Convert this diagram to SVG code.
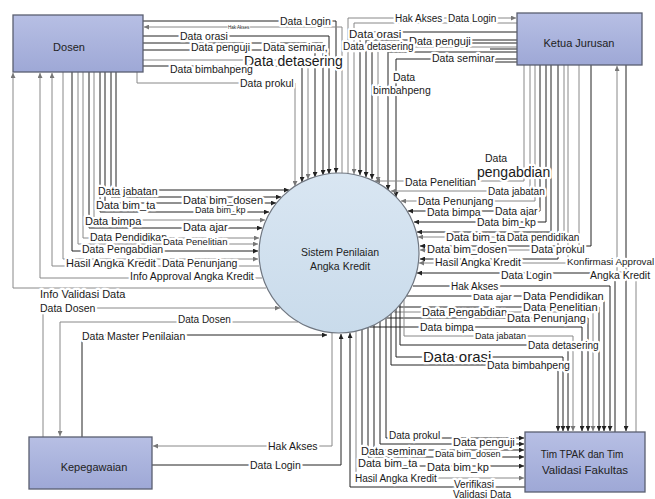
<svg xmlns="http://www.w3.org/2000/svg" width="655" height="499" viewBox="0 0 655 499">
<defs>
<linearGradient id="box" x1="0" y1="0" x2="0" y2="1"><stop offset="0" stop-color="#b7bfe4"/><stop offset="1" stop-color="#9ea8d6"/></linearGradient>
<linearGradient id="proc" x1="0" y1="0" x2="0" y2="1"><stop offset="0" stop-color="#d9e6f2"/><stop offset="1" stop-color="#c9dbeb"/></linearGradient>
<marker id="a" viewBox="0 0 10 10" refX="10" refY="5" markerWidth="6" markerHeight="5" markerUnits="userSpaceOnUse" orient="auto"><path d="M0,0 L10,5 L0,10 z" fill="#222"/></marker>
<marker id="ag" viewBox="0 0 10 10" refX="10" refY="5" markerWidth="6" markerHeight="5" markerUnits="userSpaceOnUse" orient="auto"><path d="M0,0 L10,5 L0,10 z" fill="#777"/></marker>
</defs>
<style>
.c path{fill:none;stroke:#222;stroke-width:1}
.c path.g{stroke:#888}
.c path.e{marker-end:url(#a)}
.c path.g.e{marker-end:url(#ag)}
.n rect{fill:url(#box);stroke:#5a5f70;stroke-width:1.3}
.n text{font-family:"Liberation Sans",Arial,sans-serif;font-size:11px;fill:#222;text-anchor:middle}
.l text{font-family:"Liberation Sans",Arial,sans-serif;font-size:10.5px;fill:#1a1a1a;paint-order:stroke;stroke:#fff;stroke-width:4.5px;stroke-linejoin:round}
</style>
<rect width="655" height="499" fill="#fff"/>
<g class="c" id="connectors">
<path class="e" d="M143,21 H336 V173"/>
<path class="g e" d="M342,173 V27 H144"/>
<path class="e" d="M143,36 H329 V174"/>
<path class="e" d="M143,43 H323 V175"/>
<path class="e" d="M143,50 H315 V177"/>
<path class="g e" d="M143,60 H308 V179"/>
<path class="e" d="M143,66 H302 V182"/>
<path class="g e" d="M137,72 V83 H295 V186"/>
<path class="g e" d="M348,173 V18 H516"/>
<path class="g e" d="M517,23 H354 V174"/>
<path class="e" d="M517,32 H360 V175"/>
<path class="e" d="M517,40 H366 V177"/>
<path class="e" d="M517,43 H372 V179"/>
<path class="g e" d="M517,47 H378 V182"/>
<path class="e" d="M517,52 H388 V190"/>
<path class="e" d="M517,59 H396 V197"/>
<path d="M490,49 H517"/>
<path d="M495,62 H517"/>
<path class="g e" d="M524,65 V181 H375"/>
<path class="g e" d="M530,65 V191 H391"/>
<path class="g e" d="M535,65 V201 H401"/>
<path class="e" d="M540,65 V211 H408"/>
<path class="e" d="M546,65 V222 H414"/>
<path class="e" d="M551,65 V232 H417"/>
<path class="g e" d="M564,65 V237 H418"/>
<path class="e" d="M591,65 V246 H420"/>
<path class="g e" d="M579,65 V250 H420"/>
<path class="e" d="M558,65 V259 H420"/>
<path class="g e" d="M568,65 V263 H419"/>
<path class="e" d="M615,432 V273 H417"/>
<path class="e" d="M413,286 H610 V431"/>
<path class="g e" d="M636,432 V272 H617 V66"/>
<path class="e" d="M626,65 V431"/>
<path class="e" d="M407,296 H604 V431"/>
<path class="e" d="M399,307 H599 V431"/>
<path class="g e" d="M394,312 H593 V431"/>
<path class="e" d="M387,318 H588 V431"/>
<path class="e" d="M370,327 H582 V431"/>
<path class="g e" d="M404,300 V336 H573 V431"/>
<path class="e" d="M400,305 V345 H568 V431"/>
<path class="e" d="M396,309 V357 H563 V431"/>
<path class="e" d="M391,313 V365 H558 V431"/>
<path class="g e" d="M356,331 V478 H524"/>
<path class="e" d="M362,330 V466 H524"/>
<path class="e" d="M368,328 V457 H524"/>
<path class="e" d="M374,325 V450 H524"/>
<path class="e" d="M380,322 V444 H524"/>
<path class="e" d="M386,318 V438 H524"/>
<path class="e" d="M525,487 H350 V333"/>
<path class="g e" d="M332,333 V446 H153"/>
<path class="e" d="M152,465 H341 V334"/>
<path class="g e" d="M43,437 V308 H280"/>
<path class="g e" d="M298,322 H60 V436"/>
<path class="e" d="M82,437 V335 H327"/>
<path class="e" d="M116,72 V190 H289"/>
<path class="e" d="M111,72 V197 H281"/>
<path class="e" d="M105,72 V203 H276"/>
<path class="e" d="M100,72 V212 H269"/>
<path class="g e" d="M94,72 V220 H265"/>
<path class="e" d="M89,72 V228 H262"/>
<path class="g e" d="M83,72 V238 H259"/>
<path class="g e" d="M78,72 V244 H258"/>
<path class="e" d="M72,72 V251 H258"/>
<path class="g e" d="M63,72 V259 H258"/>
<path class="g e" d="M259,266 H52 V73"/>
<path class="g e" d="M262,278 H40 V73"/>
<path class="g e" d="M266,288 H13 V73"/>
</g>
<g class="n" id="dosen"><rect x="13" y="15" width="130" height="57"/><text x="69" y="51">Dosen</text></g>
<g class="n" id="ketua"><rect x="517" y="13" width="125" height="52"/><text x="579" y="47">Ketua Jurusan</text></g>
<g class="n" id="kepegawaian"><rect x="29" y="437" width="123" height="52"/><text x="94" y="471">Kepegawaian</text></g>
<g class="n" id="tim"><rect x="525" y="432" width="120" height="60"/><text x="582" y="458" style="font-size:10px">Tim TPAK dan Tim</text><text x="585" y="474" style="font-size:11.5px">Validasi Fakultas</text></g>
<g id="sistem"><circle cx="339" cy="253" r="80" fill="url(#proc)" stroke="#6f7680" stroke-width="1.2"/><text x="340" y="256" style="font-family:'Liberation Sans',Arial,sans-serif;font-size:10.5px;fill:#222;text-anchor:middle">Sistem Penilaian</text><text x="340" y="270" style="font-family:'Liberation Sans',Arial,sans-serif;font-size:10.5px;fill:#222;text-anchor:middle">Angka Kredit</text></g>
<g class="l" id="labels">
<text x="280" y="24.5">Data Login</text>
<text x="228" y="29" style="font-size:4.5px;stroke-width:1.5px">Hak Akses</text>
<text x="180" y="40">Data orasi</text>
<text x="191" y="51">Data penguji</text>
<text x="263" y="51">Data seminar,</text>
<text x="244" y="66" style="font-size:14px">Data detasering</text>
<text x="170" y="73">Data bimbahpeng</text>
<text x="240" y="87">Data prokul</text>
<text x="395" y="22" style="font-size:10px">Hak Akses</text>
<text x="448" y="22" style="font-size:10px">Data Login</text>
<text x="349" y="37.5" style="font-size:11.5px">Data orasi</text>
<text x="409" y="45" style="font-size:11px">Data penguji</text>
<text x="343" y="50" style="font-size:10px">Data detasering</text>
<text x="432" y="62">Data seminar</text>
<text x="393" y="80.5">Data</text>
<text x="373" y="94">bimbahpeng</text>
<text x="485" y="162">Data</text>
<text x="477" y="177" style="font-size:14px">pengabdian</text>
<text x="405" y="186">Data Penelitian</text>
<text x="488" y="195" style="font-size:10px">Data jabatan</text>
<text x="418" y="205">Data Penunjang</text>
<text x="427" y="216">Data bimpa</text>
<text x="495" y="215">Data ajar</text>
<text x="477" y="226">Data bim_kp</text>
<text x="446" y="241" style="font-size:11px">Data bim_ta</text>
<text x="507" y="241" style="font-size:10px">Data pendidikan</text>
<text x="427" y="253" style="font-size:11px">Data bim_dosen</text>
<text x="531" y="253">Data prokul</text>
<text x="435" y="266">Hasil Angka Kredit</text>
<text x="567" y="265" style="font-size:9.8px">Konfirmasi Approval</text>
<text x="590" y="279">Angka Kredit</text>
<text x="501" y="279">Data Login</text>
<text x="451" y="290" style="font-size:10px">Hak Akses</text>
<text x="473" y="300" style="font-size:9.5px">Data ajar</text>
<text x="523" y="300" style="font-size:11px">Data Pendidikan</text>
<text x="523" y="311" style="font-size:11px">Data Penelitian</text>
<text x="422" y="316" style="font-size:11px">Data Pengabdian</text>
<text x="507" y="322" style="font-size:11px">Data Penunjang</text>
<text x="420" y="331">Data bimpa</text>
<text x="475" y="339" style="font-size:9px">Data jabatan</text>
<text x="528" y="348.5" style="font-size:10px">Data detasering</text>
<text x="423" y="362" style="font-size:15px">Data orasi</text>
<text x="487" y="369">Data bimbahpeng</text>
<text x="389" y="438.5" style="font-size:10px">Data prokul</text>
<text x="453" y="446" style="font-size:11px">Data penguji</text>
<text x="361" y="455" style="font-size:11px">Data seminar</text>
<text x="435" y="457" style="font-size:9px">Data bim_dosen</text>
<text x="358" y="467" style="font-size:11px">Data bim_ta</text>
<text x="427" y="471" style="font-size:11px">Data bim_kp</text>
<text x="355" y="482" style="font-size:10px">Hasil Angka Kredit</text>
<text x="454" y="488" style="font-size:10px">Verifikasi</text>
<text x="453" y="498" style="font-size:10px">Validasi Data</text>
<text x="40" y="311.5">Data Dosen</text>
<text x="178" y="323" style="font-size:10px">Data Dosen</text>
<text x="82" y="339.5">Data Master Penilaian</text>
<text x="268" y="449.5">Hak Akses</text>
<text x="250" y="469">Data Login</text>
<text x="98" y="194.5">Data jabatan</text>
<text x="183" y="203.5" style="font-size:11px">Data bim_dosen</text>
<text x="96" y="208.5" style="font-size:11px">Data bim_ta</text>
<text x="195" y="213" style="font-size:9px">Data bim_kp</text>
<text x="85" y="224.5" style="font-size:11px">Data bimpa</text>
<text x="183" y="231" style="font-size:11px">Data ajar</text>
<text x="90" y="240.5">Data Pendidikan</text>
<text x="163" y="245" style="font-size:9.5px">Data Penelitian</text>
<text x="82" y="252.5">Data Pengabdian</text>
<text x="66" y="266.5" style="font-size:11px">Hasil Angka Kredit</text>
<text x="162" y="266.5">Data Penunjang</text>
<text x="130" y="279.5">Info Approval Angka Kredit</text>
<text x="40" y="297.5" style="font-size:11px">Info Validasi Data</text>
</g>
</svg>
